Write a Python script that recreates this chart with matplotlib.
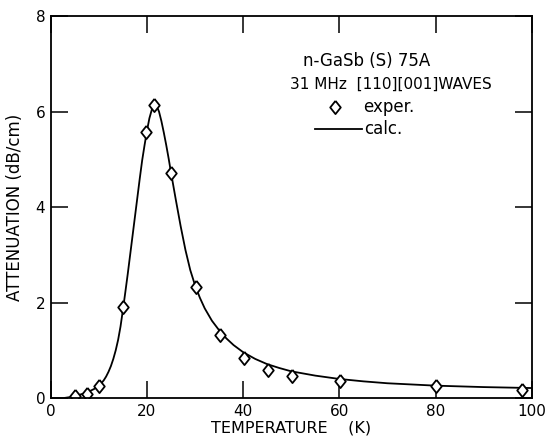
import matplotlib
matplotlib.use("Agg")
import matplotlib.pyplot as plt

# experimental points
exp_T = [5.1, 7.6, 10.1, 15.0, 19.8, 21.4, 25.0, 30.1, 35.1, 40.1, 45.1, 50.1, 60.1, 80.1, 98.0]
exp_A = [0.05, 0.08, 0.26, 1.90, 5.57, 6.13, 4.72, 2.33, 1.32, 0.84, 0.59, 0.47, 0.35, 0.26, 0.16]

# calculated curve
calc_T = [3, 4, 5, 6, 7, 8, 9, 10, 10.5, 11, 11.5, 12, 12.5, 13, 13.5, 14, 14.5, 15, 15.5, 16, 16.5,
          17, 17.5, 18, 18.5, 19, 19.5, 20, 20.5, 21, 21.5, 22, 22.5, 23, 23.5, 24, 24.5, 25,
          26, 27, 28, 29, 30, 31, 32, 33.5, 35, 36.5, 38, 40, 42.5, 45, 47.5, 50, 55, 60, 65, 70,
          80, 90, 100]
calc_A = [0.005, 0.02, 0.04, 0.07, 0.1, 0.14, 0.19, 0.26, 0.31, 0.37, 0.45, 0.55, 0.67, 0.82, 1.0,
          1.22, 1.5, 1.85, 2.22, 2.6, 3.0, 3.4, 3.8, 4.2, 4.6, 4.98, 5.3, 5.6, 5.86, 6.04, 6.14,
          6.12, 6.0, 5.8, 5.56, 5.3, 5.02, 4.72, 4.15, 3.6, 3.1, 2.68, 2.36, 2.1, 1.88, 1.62,
          1.42, 1.25, 1.11, 0.96, 0.82, 0.71, 0.63, 0.56, 0.47, 0.40, 0.35, 0.31, 0.26, 0.23, 0.21]

x_ticks = [0, 20, 40, 60, 80, 100]
y_ticks = [0, 2, 4, 6, 8]

diamond = [(0, 1), (0.8, 0), (0, -1), (-0.8, 0), (0, 1)]

plt.rcParams['font.family'] = ['DejaVu Sans']
fig = plt.figure(figsize=(5.46, 4.36), dpi=100)
ax = fig.add_axes([0.093, 0.087, 0.881, 0.876])

ax.plot(calc_T, calc_A, color='black', lw=1.3)
ax.plot(exp_T, exp_A, linestyle='none', marker=diamond, ms=9.5, mfc='white', mec='black', mew=1.3)

ax.set_xlim(0, 100)
ax.set_ylim(0, 8)
ax.set_xticks(x_ticks)
ax.set_yticks(y_ticks)
ax.set_xticklabels([str(t) for t in x_ticks], fontsize=11)
ax.set_yticklabels([str(t) for t in y_ticks], fontsize=11)
ax.tick_params(direction='in', length=12, width=1.1, top=True, right=True, pad=4)
for s in ax.spines.values():
    s.set_linewidth(1.3)

ax.set_xlabel('TEMPERATURE    (K)', fontsize=11.5, labelpad=1)
ax.set_ylabel('ATTENUATION (dB/cm)', fontsize=12, labelpad=8)

# legend block
ax.text(65.7, 7.06, 'n-GaSb (S) 75A', fontsize=12, ha='center', va='center')
ax.text(70.7, 6.58, '31 MHz  [110][001]WAVES', fontsize=11, ha='center', va='center')
ax.plot([59], [6.09], linestyle='none', marker=diamond, ms=9.5, mfc='white', mec='black', mew=1.3)
ax.text(64.9, 6.09, 'exper.', fontsize=12, ha='left', va='center')
ax.plot([54.9, 64.7], [5.63, 5.63], color='black', lw=1.3)
ax.text(65.1, 5.63, 'calc.', fontsize=12, ha='left', va='center')

fig.savefig('out.png', dpi=100)
